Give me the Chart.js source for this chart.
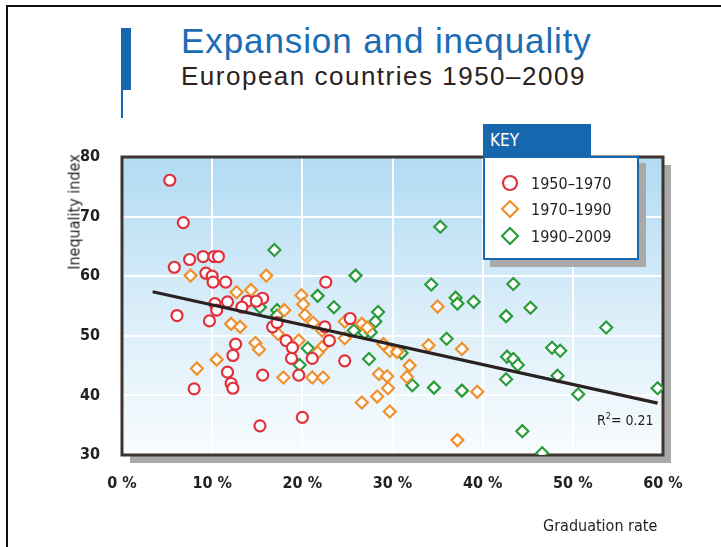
<!DOCTYPE html>
<html>
<head>
<meta charset="utf-8">
<script src="https://cdn.jsdelivr.net/npm/chart.js@4.4.1/dist/chart.umd.min.js"></script>
<style>
  body { margin: 0; width: 721px; height: 547px; position: relative; overflow: hidden; background: #fff; }
  .abs { position: absolute; }
  .narrow { font-family: "DejaVu Sans Condensed", "Liberation Sans Narrow", "Liberation Sans", Arial, sans-serif; }
  #title { left: 181px; top: 21px; font: 35px "Liberation Sans", Arial, sans-serif; letter-spacing: 0.9px; color: #1a6db3; white-space: nowrap; }
  #subtitle { left: 181px; top: 61px; font: 26px "Liberation Sans", Arial, sans-serif; letter-spacing: 1.5px; color: #2b211d; white-space: nowrap; }
  #keyHead { left: 483px; top: 124px; width: 108px; height: 33px; background: #1767ae; color: #fff; font-size: 17px; line-height: 33px; padding-left: 7px; box-sizing: border-box; }
  #keyBox { left: 483px; top: 156px; width: 156px; height: 104px; background: #fff; border: 2px solid #1767ae; box-sizing: border-box; box-shadow: 7px 7px 0 #a9a9a9; overflow: hidden; }
  .keyRow { position: absolute; left: 46px; font-size: 16px; color: #231f1d; width: 80px; overflow: hidden; white-space: nowrap; }
</style>
</head>
<body>
<div class="abs" style="left:6px;top:5px;width:760px;height:600px;border-left:2px solid #111;border-top:2px solid #111"></div>
<div class="abs" style="left:121px;top:28px;width:10px;height:62px;background:#1767ae"></div>
<div class="abs" style="left:121px;top:28px;width:2px;height:90px;background:#1767ae"></div>
<div id="title" class="abs">Expansion and inequality</div>
<div id="subtitle" class="abs">European countries 1950–2009</div>

<canvas id="chart" width="721" height="547" class="abs" style="left:0;top:0"></canvas>

<div class="abs narrow" style="left:74px;top:212px;transform:translate(-50%,-50%) rotate(-90deg);font-size:16px;color:#231f1d;white-space:nowrap">Inequality index</div>
<div class="abs narrow" style="left:543px;top:516px;font-size:16px;color:#231f1d;white-space:nowrap">Graduation rate</div>
<div class="abs narrow" style="left:597px;top:411px;font-size:14px;color:#231f1d;white-space:nowrap">R<sup style="font-size:9px">2</sup>= 0.21</div>

<div id="keyHead" class="abs narrow">KEY</div>
<div id="keyBox" class="abs">
  <canvas id="keyIcons" width="40" height="100" class="abs" style="left:10px;top:10px"></canvas>
  <div class="keyRow narrow" style="top:16px">1950–1970</div>
  <div class="keyRow narrow" style="top:42px">1970–1990</div>
  <div class="keyRow narrow" style="top:69px">1990–2009</div>
</div>

<script>
// graduation rate (%) / inequality index
const red5070 = [
  [5.3, 76.1], [6.8, 69.0], [7.5, 62.8], [9.0, 63.3], [10.2, 63.3], [10.7, 63.3],
  [5.8, 61.5], [9.3, 60.5], [10.0, 60.0], [10.1, 59.0], [11.5, 59.0], [15.6, 56.3],
  [13.9, 55.8], [14.9, 55.8], [11.7, 55.7], [10.3, 55.4], [13.3, 54.8], [10.5, 54.3],
  [6.1, 53.4], [9.7, 52.5], [16.7, 51.5], [17.2, 52.2], [12.6, 48.6], [12.3, 46.7],
  [11.7, 43.9], [15.6, 43.4], [12.1, 42.0], [12.3, 41.2], [8.0, 41.1], [15.3, 34.9],
  [20.0, 36.3], [22.6, 59.0], [25.3, 52.9], [22.5, 51.5], [23.0, 49.2], [18.2, 49.2],
  [18.9, 48.0], [18.8, 46.2], [21.1, 46.2], [24.7, 45.8], [19.6, 43.4]
];
const orange7090 = [
  [7.6, 60.1], [16.0, 60.1], [12.7, 57.3], [14.3, 57.7], [12.1, 52.0], [13.1, 51.5],
  [14.8, 48.8], [15.2, 47.7], [10.5, 46.0], [8.3, 44.5], [19.9, 56.8], [20.1, 55.3],
  [18.0, 54.3], [20.3, 53.5], [21.2, 52.2], [17.3, 50.3], [24.7, 52.4], [26.6, 52.0],
  [22.2, 50.9], [24.7, 49.6], [19.6, 49.2], [22.2, 48.1], [21.7, 47.2], [17.9, 43.0],
  [21.1, 43.0], [22.3, 43.0], [29.0, 48.6], [29.7, 47.5], [30.5, 47.3], [28.5, 43.6],
  [29.4, 43.2], [29.5, 41.2], [31.6, 43.1], [31.9, 45.0], [28.3, 39.8], [26.6, 38.8],
  [29.7, 37.3], [34.0, 48.4], [37.7, 47.8], [39.4, 40.6], [37.2, 32.5], [35.0, 54.9],
  [27.2, 51.4]
];
const green9009 = [
  [16.9, 64.4], [25.9, 60.1], [21.7, 56.7], [23.5, 54.8], [15.3, 54.8], [17.2, 54.3],
  [17.2, 53.4], [28.4, 54.0], [28.1, 52.4], [25.7, 50.9], [26.9, 50.5], [27.6, 50.6],
  [20.6, 47.9], [27.4, 46.1], [19.7, 45.1], [35.3, 68.3], [34.3, 58.6], [37.0, 56.4],
  [37.2, 55.4], [39.0, 55.7], [31.0, 47.1], [36.0, 49.5], [32.2, 41.7], [34.6, 41.3],
  [37.7, 40.8], [43.4, 58.7], [45.3, 54.7], [42.6, 53.3], [53.7, 51.4], [47.7, 48.0],
  [48.6, 47.5], [42.7, 46.5], [43.4, 46.1], [43.9, 45.1], [48.3, 43.3], [42.6, 42.7],
  [50.6, 40.2], [59.4, 41.2], [44.4, 34.0], [46.6, 30.3]
];
const trendLine = [[3.4, 57.4], [59.4, 38.7]];
const xTicks = [0, 10, 20, 30, 40, 50, 60];
const yTicks = [30, 40, 50, 60, 70, 80];

const RED = '#e2313b';
const ORANGE = '#f1902c';
const GREEN = '#2a9c3c';
const TICK_FONT = '"DejaVu Sans Condensed", "Liberation Sans Narrow", "Liberation Sans", Arial';

function toPts(arr) {
  return arr.map(p => ({ x: p[0], y: p[1] }));
}

// panel: shadow, gradient fill, then the dark frame under the markers
const panel = {
  id: 'panel',
  beforeDraw(chart) {
    const { ctx, chartArea: a } = chart;
    ctx.save();
    ctx.fillStyle = '#a9a9a9';
    ctx.fillRect(a.left + 8, a.top + 8, a.width, a.height);
    const g = ctx.createLinearGradient(0, a.top, 0, a.bottom);
    g.addColorStop(0, '#b1dbf3');
    g.addColorStop(0.5, '#d9edf9');
    g.addColorStop(1, '#f8fcfe');
    ctx.fillStyle = g;
    ctx.fillRect(a.left, a.top, a.width, a.height);
    ctx.restore();
  },
  beforeDatasetsDraw(chart) {
    const { ctx, chartArea: a } = chart;
    ctx.save();
    ctx.strokeStyle = '#3e3531';
    ctx.lineWidth = 3;
    ctx.strokeRect(a.left, a.top, a.width, a.height);
    ctx.restore();
  }
};

const markerOpts = {
  backgroundColor: '#fff',
  borderWidth: 2.2
};

new Chart(document.getElementById('chart'), {
  type: 'scatter',
  data: {
    datasets: [
      { label: 'trend', type: 'line', data: toPts(trendLine), borderColor: '#2a2220', borderWidth: 3.2,
        pointRadius: 0, fill: false, order: 0 },
      { label: '1950–1970', data: toPts(red5070), pointStyle: 'circle', pointRadius: 5.5,
        borderColor: RED, ...markerOpts, order: 1 },
      { label: '1970–1990', data: toPts(orange7090), pointStyle: 'rectRot', pointRadius: 6,
        borderColor: ORANGE, ...markerOpts, order: 2 },
      { label: '1990–2009', data: toPts(green9009), pointStyle: 'rectRot', pointRadius: 6,
        borderColor: GREEN, ...markerOpts, order: 3 }
    ]
  },
  options: {
    responsive: false,
    animation: false,
    devicePixelRatio: 1,
    layout: { padding: { left: 0, top: 157, right: 58, bottom: 0 } },
    plugins: { legend: { display: false }, tooltip: { enabled: false } },
    scales: {
      x: {
        type: 'linear', min: 0, max: 60,
        afterFit: s => { s.height = 92; },
        afterBuildTicks: s => { s.ticks = xTicks.map(v => ({ value: v })); },
        grid: { color: '#ffffff', lineWidth: 2, drawTicks: false },
        border: { display: false },
        ticks: {
          padding: 19, color: '#231f1d',
          font: { family: TICK_FONT, size: 16, weight: 'bold' },
          callback: v => v + ' %'
        }
      },
      y: {
        type: 'linear', min: 30, max: 80,
        afterFit: s => { s.width = 122; },
        afterBuildTicks: s => { s.ticks = yTicks.map(v => ({ value: v })); },
        grid: { color: '#ffffff', lineWidth: 2, drawTicks: false },
        border: { display: false },
        ticks: {
          padding: 22, color: '#231f1d',
          font: { family: TICK_FONT, size: 16, weight: 'bold' }
        }
      }
    }
  },
  plugins: [panel]
});

// key symbols
const k = document.getElementById('keyIcons').getContext('2d');
k.lineWidth = 2.2;
k.strokeStyle = RED;
k.beginPath(); k.arc(15, 15, 7, 0, Math.PI * 2); k.stroke();
[[ORANGE, 41], [GREEN, 68]].forEach(([c, y]) => {
  k.strokeStyle = c;
  k.beginPath();
  k.moveTo(15, y - 8); k.lineTo(23, y); k.lineTo(15, y + 8); k.lineTo(7, y); k.closePath();
  k.stroke();
});
</script>
</body>
</html>
